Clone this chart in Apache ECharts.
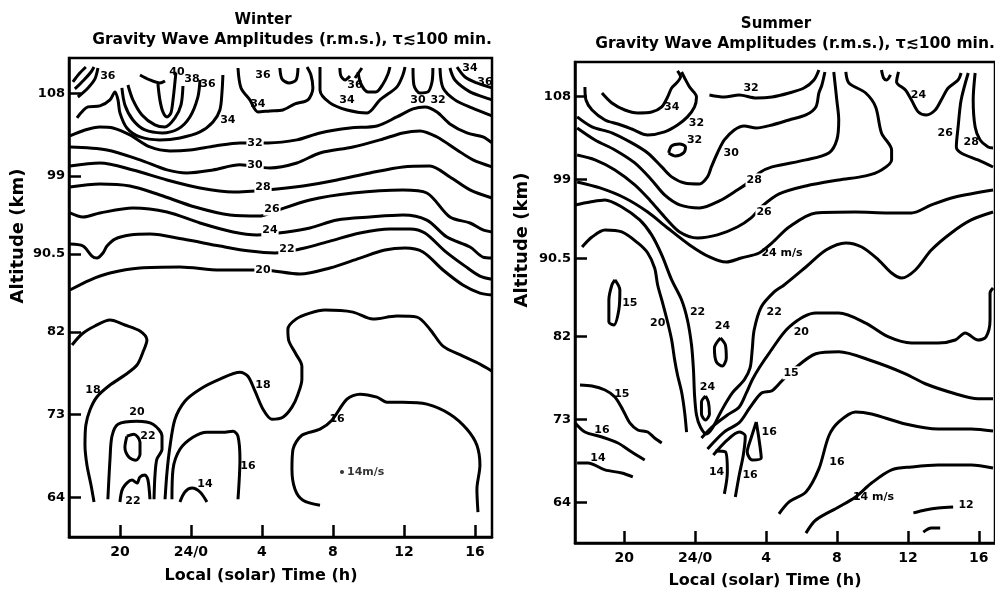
<!DOCTYPE html>
<html>
<head>
<meta charset="utf-8">
<script src="https://cdn.jsdelivr.net/npm/echarts@6/dist/echarts.min.js"></script>
<style>
  html, body { margin: 0; background: #fff; }
  #chart { width: 995px; height: 591px; }
</style>
</head>
<body>
<div id="chart"></div>
<script>
// axis ticks: local time in hours (values past 24 are the next day), altitude in km
const hourTicks = [20, 24, 28, 32, 36, 40];
const altTicks = [64, 73, 82, 90.5, 99, 108];

// ---- Winter contour lines, points are [hour, km] ----
const w36a = [[17.35,109.24],[17.69,110.11],[18.08,110.87]];
const w36b = [[17.46,108.48],[17.97,109.46],[18.37,110.33],[18.54,110.87]];
const w36c = [[17.63,107.6],[18.2,108.59],[18.59,109.57],[18.76,110.76]];
const w34a = [[17.58,105.32],[18.2,106.52],[18.87,106.63],[19.44,107.29],[19.72,108.16],[19.89,107.29],[20,105.87],[20.39,104.23],[21.13,103.25],[22.25,102.93],[23.38,103.14],[24.51,103.8],[25.24,104.88],[25.63,106.19],[25.75,108.16],[25.8,110.0]];
const w36u = [[20.11,108.59],[20.28,106.74],[20.73,105.1],[21.41,104.01],[22.37,103.69],[23.27,104.12],[23.94,105.43],[24.39,107.6],[24.51,109.46]];
const w38u = [[20.45,108.91],[20.73,107.29],[21.24,105.65],[21.97,104.56],[22.54,104.34],[23.1,105.32],[23.44,106.74],[23.55,108.8]];
const w40t = [[21.13,110.0],[21.69,109.46],[22.25,109.13],[22.54,109.35]];
const w40u = [[22.14,109.02],[22.25,107.29],[22.42,105.98],[22.65,105.43],[22.87,105.87],[22.99,107.29],[23.1,109.24],[23.15,110.22]];
const w34b = [[26.65,110.76],[26.82,108.59],[27.32,107.29],[27.77,105.98],[28.45,106.09],[29.18,106.19],[29.86,106.85],[30.59,107.29],[30.87,108.59],[30.76,110.0],[30.54,110.87]];
const w36s = [[29.01,110.76],[29.13,109.57],[29.52,109.13],[29.92,109.46],[30.03,110.76]];
const w34c = [[31.27,110.87],[31.27,108.37],[31.83,106.96],[32.79,106.19],[33.92,105.87],[34.65,107.29],[35.6,108.7],[35.94,110.0],[36.06,110.87]];
const w36v = [[32.39,110.76],[32.45,109.89],[32.68,109.46],[32.96,109.89]];
const w36d = [[33.24,109.67],[33.63,110.76]];
const w36w = [[33.41,110.33],[33.58,109.02],[33.97,108.16],[34.42,108.16],[34.82,109.02],[35.1,110.11],[35.21,110.87]];
const w30u = [[36.51,110.76],[36.56,108.91],[36.9,108.04],[37.35,108.16],[37.58,109.24],[37.63,110.76]];
const w32b = [[38.03,110.76],[38.2,108.59],[38.87,107.29],[39.83,106.41],[40.96,105.54]];
const w34r = [[38.59,110.76],[38.87,109.46],[39.72,108.16],[40.45,107.62],[40.96,107.29]];
const w36r = [[38.99,110.87],[39.44,109.78],[40.11,109.13],[40.96,108.59]];
const w32 = [[17.18,103.36],[18.03,104.01],[18.87,104.34],[19.61,104.23],[20.56,103.47],[21.69,102.16],[22.82,101.73],[23.94,101.84],[25.35,102.27],[26.76,102.6],[28.34,102.6],[29.97,102.93],[31.27,103.69],[32.96,104.23],[34.48,104.45],[35.6,105.43],[36.51,106.3],[37.18,106.52],[37.86,105.98],[38.59,104.67],[39.55,103.69],[40.45,103.25],[40.96,102.6]];
const w30 = [[17.18,102.16],[19.27,101.84],[21.13,100.75],[22.65,99.66],[23.77,99.33],[25.24,99.66],[26.76,100.21],[28.45,99.88],[29.97,100.42],[31.27,101.51],[33.13,102.16],[34.65,102.93],[35.94,103.69],[36.9,103.91],[37.86,103.25],[38.99,101.84],[39.89,100.75],[40.96,99.99]];
const w28 = [[17.18,100.09],[18.87,100.42],[20.73,99.66],[22.65,98.57],[24.51,97.7],[26.37,97.26],[28.28,97.48],[30.31,97.91],[32.23,98.57],[34.08,99.33],[35.94,99.99],[37.46,100.09],[38.59,98.89],[39.72,97.48],[40.96,96.6]];
const w26 = [[17.18,97.8],[18.87,98.13],[20.56,97.91],[22.25,96.93],[24.23,95.62],[26.2,94.75],[27.89,94.64],[28.45,94.97],[30.7,96.39],[33.13,97.15],[35.94,97.48],[37.29,97.15],[38.59,94.53],[39.72,93.88],[40.45,93.12],[40.96,92.9]];
const w24 = [[17.18,94.97],[17.92,94.53],[18.87,94.97],[20.73,95.51],[22.65,95.08],[24.51,93.88],[26.37,92.9],[27.72,92.57],[29.41,92.9],[30.7,93.33],[32.23,94.2],[34.08,94.53],[35.94,94.75],[37.29,94.2],[38.42,92.35],[39.72,91.26],[40.45,90.17],[40.96,90.07]];
const w22 = [[17.18,91.59],[17.92,91.37],[18.42,90.28],[18.7,90.06],[19.04,90.61],[19.27,91.37],[19.72,92.13],[20.56,92.57],[21.69,92.68],[23.55,92.13],[25.63,91.37],[27.32,90.82],[28.73,90.61],[30.14,91.04],[31.83,91.91],[33.52,92.79],[35.21,93.23],[36.34,93.23],[37.18,92.79],[38.31,90.82],[39.44,89.18],[40.28,88.09],[40.96,87.76]];
const w20 = [[17.18,86.58],[18.31,87.67],[19.44,88.43],[21.13,88.98],[23.38,89.09],[25.63,88.76],[28.06,88.76],[30.14,88.32],[31.83,88.98],[33.52,90.06],[34.93,90.93],[36.06,91.15],[37.07,90.72],[38.2,88.76],[39.32,87.13],[40.28,86.25],[40.96,86.04]];
const w18a = [[17.3,80.59],[17.86,81.79],[18.59,82.66],[19.44,83.31],[20.28,82.77],[21.13,82.11],[21.52,81.13],[21.3,79.83],[20.96,78.41],[20.28,77.32],[19.44,76.23],[18.7,74.93],[18.31,73.51],[18.08,71.88],[18.03,69.7],[18.14,67.52],[18.37,65.34],[18.54,63.49]];
const w18b = [[22.54,63.79],[22.65,66.73],[22.82,69.56],[23.1,72.51],[23.66,74.47],[24.51,75.78],[25.63,76.87],[26.76,77.63],[27.21,77.19],[27.61,75.56],[28.06,73.6],[28.56,72.51],[29.18,72.73],[29.69,73.82],[30.03,75.24],[30.25,76.87],[30.25,78.29],[29.92,79.59],[29.52,81.01],[29.46,82.32],[29.92,83.41],[30.7,84.06],[31.55,84.39],[33.13,84.17],[34.25,83.41],[35.6,83.74],[36.73,83.63],[37.46,82.32],[38.2,80.47],[39.32,79.38],[40.28,78.5],[40.96,77.74]];
const w20u = [[19.32,63.79],[19.44,68.15],[19.55,70.65],[19.89,71.96],[20.96,72.29],[21.86,71.96],[22.37,70.65],[22.37,69.23],[22.08,68.15],[21.97,66.29],[21.92,63.79]];
const w22e = [[20.39,70.65],[20.79,70.87],[21.13,70.0],[21.13,68.69],[20.9,68.04],[20.51,68.36],[20.28,69.45],[20.39,70.65]];
const w22b = [[20,63.49],[20.17,65.01],[20.68,65.88],[20.96,65.56],[21.13,66.21],[21.41,66.43],[21.58,65.88],[21.69,63.79]];
const w16u = [[22.93,63.79],[22.99,67.06],[23.38,69.23],[24.11,70.54],[24.9,71.09],[25.8,71.09],[26.37,71.2],[26.65,70.65],[26.76,68.15],[26.65,63.79]];
const w14 = [[23.38,63.49],[23.66,64.58],[24.06,65.01],[24.51,64.58],[24.9,63.49]];
const w16b = [[31.27,63.14],[30.31,63.68],[29.86,64.88],[29.69,67.06],[29.75,69.23],[30.25,70.76],[31.27,71.42],[31.94,72.4],[32.79,74.69],[33.52,75.24],[34.48,74.91],[35.04,74.36],[35.94,74.36],[37.29,74.15],[38.59,73.06],[39.55,71.42],[40.11,69.67],[40.28,67.49],[40.11,64.88],[40.17,62.38]];

const winterLines = [w36a, w36b, w36c, w34a, w36u, w38u, w40t, w40u, w34b, w36s, w34c, w36v, w36d, w36w,
  w30u, w32b, w34r, w36r, w32, w30, w28, w26, w24, w22, w20, w18a, w18b, w20u, w22e, w22b, w16u, w14, w16b];

// labels sitting in a gap of their line: [text, hour, km]
const winterGapLabels = [['32',27.61,102.6],['30',27.61,100.2],['28',28.06,97.8],['26',28.56,95.4],['24',28.45,93.1],['22',29.41,91.0],['20',28.06,88.76]];
// labels beside a line
const winterLabels = [['36',19.32,109.89],['40',23.21,110.33],['38',24.06,109.57],['36',24.96,109.02],['34',26.08,105.1],
  ['36',28.06,110.0],['34',27.77,106.83],['36',33.24,108.91],['34',32.79,107.29],['30',36.79,107.29],['32',37.92,107.29],
  ['34',39.72,110.76],['36',40.56,109.24],['18',18.48,75.69],['18',28.06,76.25],['20',20.96,73.29],['22',21.58,70.65],
  ['22',20.73,63.57],['16',27.21,67.41],['14',24.79,65.45],['16',32.23,72.51]];
const winterDot = [32.51, 66.76];

// ---- Summer contour lines ----
const s32 = [[17.79,109.05],[17.85,107.64],[18.19,106.56],[18.92,105.48],[19.65,105.04],[20.43,104.5],[21.33,103.85],[22.28,104.18],[23.01,104.94],[23.57,105.81],[23.97,106.89],[24.08,107.97],[23.69,109.05],[23.41,110.03],[23.24,110.68]];
const s34 = [[18.75,108.4],[19.31,107.32],[20.04,106.56],[20.77,106.24],[21.55,106.34],[22.12,106.89],[22.45,107.97],[22.68,108.94],[23.01,109.6],[23.18,110.14],[23.01,110.79]];
const s32e = [[22.51,101.9],[22.68,102.66],[23.13,102.88],[23.46,102.55],[23.35,101.9],[22.9,101.57],[22.51,101.9]];
const s30 = [[17.35,105.81],[18.19,104.73],[19.31,104.08],[20.43,102.99],[21.33,101.9],[22.12,100.39],[22.68,99.31],[23.41,98.65],[24.25,98.55],[24.7,99.31],[24.92,100.39],[25.26,101.9],[25.65,103.31],[26.21,104.4],[26.77,104.83],[27.45,104.61],[28.34,104.94],[29.3,105.48],[30.25,106.02],[30.81,106.89],[30.98,108.4],[31.15,109.27],[31.32,110.68]];
const s32r = [[24.81,108.19],[25.65,107.97],[26.49,108.19],[27.45,107.86],[28.34,107.97],[29.3,108.4],[30.14,108.94],[30.7,109.81],[30.98,110.9]];
const s28 = [[17.35,104.61],[18.36,103.31],[19.48,102.23],[20.6,100.82],[21.55,98.98],[22.28,97.35],[23.13,96.27],[24.25,95.94],[25.37,96.7],[26.38,97.89],[27.05,98.76],[27.61,99.74],[28.34,100.39],[30.25,101.15],[31.54,101.9],[31.99,103.31],[32.1,105.48],[31.99,107.64],[31.82,110.68]];
const s26 = [[17.35,101.68],[18.36,101.15],[19.48,100.06],[20.6,98.44],[21.44,96.81],[22.28,94.97],[23.13,93.34],[24.14,92.69],[25.26,93.02],[26.38,93.88],[27.16,94.86],[27.73,96.05],[28.74,97.46],[30.25,98.33],[32.1,98.98],[33.62,99.42],[34.51,100.06],[35.08,101.14],[35.08,102.23],[34.51,104.07],[34.18,106.89],[33.62,108.4],[32.67,109.49],[32.5,110.68]];
const s24 = [[17.35,98.76],[18.64,98.11],[20.04,97.02],[21.33,95.5],[22.45,93.77],[23.69,91.93],[24.81,90.63],[25.76,90.08],[26.6,90.52],[27.61,91.06],[28.34,92.15],[29.3,93.88],[30.81,95.4],[33.05,95.5],[34.91,95.4],[36.2,95.4],[37.32,96.27],[38.67,97.13],[40.8,97.89]];
const s22 = [[17.24,96.27],[18.08,96.59],[18.92,96.81],[19.87,96.05],[20.88,94.64],[21.55,93.02],[22.12,90.85],[22.68,88.14],[23.24,85.97],[23.57,83.8],[23.8,81.09],[23.91,78.38],[23.97,75.67],[24.08,73.5],[24.3,72.2],[24.64,71.44],[24.98,72.09],[25.48,73.94],[26.1,75.89],[26.77,77.3],[27.1,78.6],[27.22,80.55],[27.33,82.72],[27.73,85.21],[28.46,86.84],[29.02,87.59],[30.25,89.54],[31.38,91.38],[32.5,92.15],[33.4,91.71],[34.35,90.3],[35.08,88.89],[35.64,88.35],[36.42,89.22],[37.32,91.38],[38.44,93.23],[39.57,94.64],[40.8,95.5]];
const s20l = [[17.63,91.71],[18.19,92.79],[18.92,93.55],[19.87,93.34],[20.77,92.15],[21.33,91.06],[21.72,89.44],[21.89,87.59],[22.17,85.64],[22.45,83.58],[22.68,81.63],[22.85,79.46],[23.01,77.84],[23.24,75.99],[23.41,73.82],[23.52,71.65]];
const s20r = [[24.36,71.01],[25.09,72.42],[25.82,73.5],[26.49,74.37],[26.89,75.89],[27.22,77.3],[27.61,78.6],[28.18,80.22],[29.3,83.03],[30.81,84.55],[32.1,84.55],[33.62,83.47],[34.91,81.96],[36.2,81.31],[37.71,81.31],[38.67,81.63],[39.23,82.39],[39.95,81.63],[40.4,81.96],[40.63,83.8],[40.63,86.73],[40.8,87.27]];
const s15r = [[24.7,69.83],[25.65,71.68],[26.49,72.67],[27.05,74.19],[27.45,75.27],[27.79,75.92],[28.34,76.13],[28.9,77.21],[29.46,78.29],[30.81,80.14],[32.1,80.36],[33.95,79.38],[35.86,77.97],[36.98,76.89],[38.67,75.81],[39.95,75.27],[40.8,75.27]];
const s14v = [[25.15,69.6],[25.71,69.5],[25.82,67.33],[25.65,64.95]];
const s16v = [[25.03,69.17],[25.82,70.8],[26.49,71.66],[26.83,71.23],[26.72,69.17],[26.49,67.0],[26.27,64.62]];
const s16e = [[27.45,72.75],[27.61,70.8],[27.73,68.84],[27.22,68.63],[26.94,69.49],[27.16,71.01],[27.45,72.75]];
const s24e1 = [[24.59,75.56],[24.75,74.91],[24.81,73.61],[24.59,72.96],[24.36,73.61],[24.36,74.91],[24.59,75.56]];
const s24e2 = [[25.43,81.85],[25.71,81.09],[25.76,79.68],[25.54,78.81],[25.2,79.25],[25.09,80.77],[25.43,81.85]];
const s15e = [[19.48,88.14],[19.76,87.05],[19.7,84.88],[19.42,83.26],[19.14,83.58],[19.14,85.97],[19.31,87.59],[19.48,88.14]];
const s15l = [[17.51,76.76],[18.19,76.65],[18.92,76.21],[19.48,75.46],[19.93,74.05],[20.32,72.64],[20.77,71.88],[21.33,71.66],[21.72,71.01],[22.12,70.47]];
const s16l = [[17.24,72.64],[17.79,71.66],[18.75,71.12],[19.65,70.47],[20.43,69.49],[21.16,68.63]];
const s14l = [[17.35,68.31],[17.96,68.31],[18.92,67.55],[19.87,67.22],[20.49,66.79]];
const s16r = [[28.73,62.78],[29.3,64.08],[30.25,65.16],[30.98,67.66],[31.54,71.23],[32.1,72.75],[33.05,73.83],[33.95,73.61],[35.86,72.53],[37.71,71.99],[39.57,71.99],[40.8,71.77]];
const s14r = [[30.25,60.7],[30.81,62.12],[32.1,63.53],[33.05,64.62],[33.95,66.13],[35.08,67.55],[36.2,67.87],[37.71,68.09],[39.57,68.09],[40.8,67.76]];
const s12 = [[36.31,62.89],[36.98,63.21],[37.71,63.43],[38.55,63.53]];
const s12b = [[36.87,60.81],[37.32,61.25],[37.82,61.25]];
const sHook = [[34.51,110.9],[34.63,110.03],[34.8,109.81],[35.02,110.36]];
const s24u = [[35.47,110.68],[35.36,109.6],[35.86,108.73],[36.2,107.64],[36.59,106.34],[37.04,106.02],[37.54,106.56],[37.88,107.64],[38.27,108.94],[38.83,109.81],[39.0,110.57]];
const s26r = [[39.4,110.57],[39.0,107.64],[38.83,104.72],[38.73,102.55],[39.0,101.9],[39.95,101.14],[40.8,100.38]];
const s28r = [[39.79,110.57],[39.68,107.64],[39.79,104.72],[40.07,103.31],[40.52,102.55],[40.8,102.44]];

const summerLines = [s32, s34, s32e, s30, s32r, s28, s26, s24, s22, s20l, s20r, s15r, s14v, s16v, s16e,
  s24e1, s24e2, s15e, s15l, s16l, s14l, s16r, s14r, s12, s12b, sHook, s24u, s26r, s28r];

const summerGapLabels = [['28',27.33,98.98],['26',27.89,95.53],['15',29.41,78.07]];
const summerLabels = [['34',22.68,106.89],['32',24.08,105.15],['32',23.97,103.32],['30',26.04,101.9],['32',27.16,108.94],
  ['24 m/s',28.9,91.06],['22',24.14,84.67],['22',28.46,84.67],['20',21.89,83.47],['20',29.99,82.46],['15',20.32,85.64],
  ['24',25.54,83.15],['24',24.7,76.56],['16',28.18,71.66],['14',25.21,67.3],['16',27.1,67.0],['15',19.87,75.78],
  ['16',18.75,71.88],['14',18.52,68.85],['16',32.0,68.39],['14 m/s',34.06,64.62],['12',39.28,63.75],
  ['24',36.59,108.19],['26',38.1,104.07],['28',39.57,103.09]];

const FONT = '"DejaVu Sans", sans-serif';

function contourSeries(lines, idx) {
  return lines.map(pts => ({
    type: 'line', xAxisIndex: idx, yAxisIndex: idx, data: pts,
    symbol: 'none', smooth: 0.3, silent: true, z: 2,
    lineStyle: { color: '#000', width: 3 }
  }));
}

function labelSeries(labels, idx, gap) {
  return {
    type: 'scatter', xAxisIndex: idx, yAxisIndex: idx, symbolSize: 1, silent: true, z: 5,
    itemStyle: { color: '#fff', opacity: 0 },
    data: labels.map(l => ({ name: l[0], value: [l[1], l[2]] })),
    label: {
      show: true, position: 'inside', formatter: '{b}', color: '#000', opacity: 1,
      textBorderWidth: 0, textShadowBlur: 0,
      fontFamily: FONT, fontWeight: 'bold', fontSize: 11,
      backgroundColor: gap ? '#fff' : 'transparent', padding: gap ? [1, 1] : 0
    }
  };
}

function xAxisFor(idx, min, max) {
  return {
    gridIndex: idx, type: 'value', min: min, max: max,
    axisLine: { onZero: false, lineStyle: { color: '#000', width: 2.5 } },
    axisTick: { inside: true, length: 12, customValues: hourTicks, lineStyle: { color: '#000', width: 2.5 } },
    axisLabel: {
      customValues: hourTicks, margin: 8, color: '#000', fontFamily: FONT, fontWeight: 'bold', fontSize: 14,
      formatter: v => v === 24 ? '24/0' : String(v % 24)
    },
    splitLine: { show: false }
  };
}

function yAxisFor(idx, min, max) {
  return {
    gridIndex: idx, type: 'value', min: min, max: max,
    axisLine: { onZero: false, lineStyle: { color: '#000', width: 2.5 } },
    axisTick: { inside: true, length: 12, customValues: altTicks, lineStyle: { color: '#000', width: 2.5 } },
    axisLabel: {
      customValues: altTicks, margin: 4, color: '#000', fontFamily: FONT, fontWeight: 'bold', fontSize: 13,
      formatter: v => String(v)
    },
    splitLine: { show: false }
  };
}

function text(str, x, y, size, rot) {
  return {
    type: 'text', x: x, y: y, rotation: rot || 0, silent: true,
    style: { text: str, fill: '#000', font: 'bold ' + size + 'px ' + FONT, textAlign: 'center', textVerticalAlign: 'middle' }
  };
}

const subtitle = 'Gravity Wave Amplitudes (r.m.s.), \u03c4\u2272100 min.';

const chart = echarts.init(document.getElementById('chart'));
chart.setOption({
  animation: false,
  backgroundColor: '#fff',
  grid: [
    { left: 69, top: 58, width: 423, height: 479, show: true, borderColor: '#000', borderWidth: 2.5 },
    { left: 575, top: 62, width: 422, height: 481, show: true, borderColor: '#000', borderWidth: 2.5 }
  ],
  xAxis: [xAxisFor(0, 17.13, 40.96), xAxisFor(1, 17.23, 40.91)],
  yAxis: [yAxisFor(0, 59.68, 111.85), yAxisFor(1, 59.63, 111.76)],
  graphic: [
    text('Winter', 263, 20, 15),
    text(subtitle, 292, 40, 15.5),
    text('Summer', 776, 24, 15),
    text(subtitle, 795, 44, 15.5),
    text('Altitude (km)', 18, 236, 18, Math.PI / 2),
    text('Altitude (km)', 522, 240, 18, Math.PI / 2),
    text('Local (solar) Time (h)', 261, 576, 16),
    text('Local (solar) Time (h)', 765, 581, 16)
  ],
  series: [
    ...contourSeries(winterLines, 0),
    ...contourSeries(summerLines, 1),
    labelSeries(winterGapLabels, 0, true),
    labelSeries(winterLabels, 0, false),
    labelSeries(summerGapLabels, 1, true),
    labelSeries(summerLabels, 1, false),
    {
      type: 'scatter', xAxisIndex: 0, yAxisIndex: 0, symbolSize: 4, silent: true, z: 5,
      itemStyle: { color: '#000' },
      data: [{ name: '14m/s', value: winterDot }],
      label: { show: true, position: 'right', distance: 3, formatter: '{b}', color: '#000', textBorderWidth: 0, fontFamily: FONT, fontWeight: 'bold', fontSize: 11 }
    }
  ]
});
</script>
</body>
</html>
